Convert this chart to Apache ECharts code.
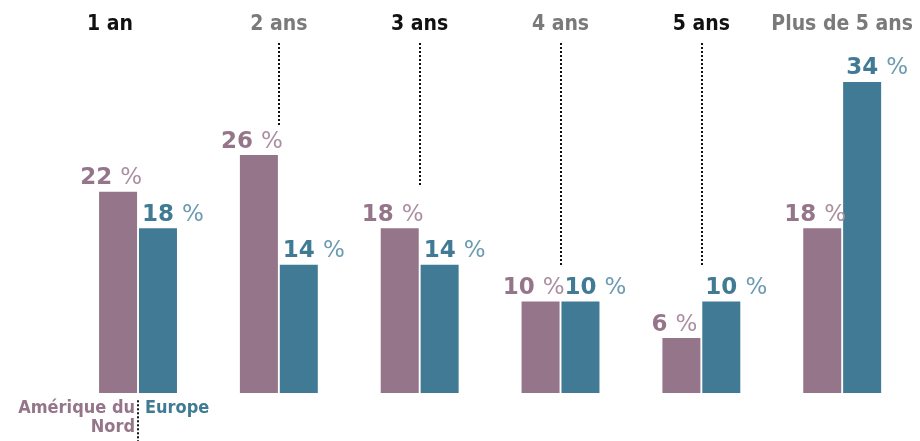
<!DOCTYPE html>
<html style="height: 100%">
<head>
  <meta charset="utf-8">
</head>
<body style="height: 100%; margin: 0; background: #fff">
  <div id="container" style="width: 920px; height: 441px"></div>
  <script type="text/javascript" src="https://cdn.jsdelivr.net/npm/echarts@6/dist/echarts.min.js"></script>
  <script type="text/javascript">
    // durations, shares for each region (%)
    var categories = ['1 an', '2 ans', '3 ans', '4 ans', '5 ans', 'Plus de 5 ans'];
    var amerique = [22, 26, 18, 10, 6, 18];
    var europe = [18, 14, 14, 10, 10, 34];
    // dotted leaders under the headings: [category index, lower end value]
    var leaders = [[1, 29.1], [2, 22.7], [3, 13.9], [4, 13.9]];
    var yMin = -5.25;
    var yMax = 38.25;

    var purple = '#957589';
    var blue = '#417a94';
    var condensed = '"Liberation Sans Narrow", "DejaVu Sans Condensed", "Roboto Condensed", sans-serif';

    var dom = document.getElementById('container');
    var myChart = echarts.init(dom, null, { renderer: 'canvas' });

    function valueLabel(color, light, offsetX) {
      return {
        show: true,
        position: 'top',
        distance: 2,
        offset: [offsetX, 0],
        formatter: '{n|{c}}{p|%}',
        rich: {
          n: { fontFamily: 'DejaVu Sans', fontWeight: 'bold', fontSize: 23, color: color },
          p: { fontFamily: 'DejaVu Sans', fontWeight: 'normal', fontSize: 23, color: light, padding: [0, 0, 0, 8] }
        }
      };
    }

    var leaderLines = leaders.map(function (l) {
      return [{ coord: [l[0], yMax] }, { coord: [l[0], l[1]] }];
    });
    leaderLines.push([{ coord: [0, -0.8] }, { coord: [0, yMin] }]);

    var option = {
      animation: false,
      grid: { left: 67.6, right: 7.4, top: 43, bottom: 0, containLabel: false, outerBoundsMode: 'none' },
      xAxis: {
        type: 'category',
        position: 'top',
        data: categories,
        axisLine: { show: false },
        axisTick: { show: false },
        axisLabel: {
          margin: 8,
          formatter: function (v, i) {
            if (i === 0) return '{first|' + v + '}';
            return (i % 2 === 0 ? '{dark|' : '{gray|') + v + '}';
          },
          rich: {
            first: { fontFamily: condensed, fontWeight: 'bold', fontSize: 21, color: '#111', padding: [0, 56, 0, 0] },
            dark: { fontFamily: condensed, fontWeight: 'bold', fontSize: 21, color: '#111' },
            gray: { fontFamily: condensed, fontWeight: 'bold', fontSize: 21, color: '#7a7a7a' }
          }
        }
      },
      yAxis: {
        type: 'value',
        min: yMin,
        max: yMax,
        show: false,
        splitLine: { show: false }
      },
      series: [
        {
          name: 'Amérique du Nord',
          type: 'bar',
          data: amerique,
          barWidth: 38,
          barGap: '5%',
          itemStyle: { color: purple },
          label: valueLabel(purple, '#ab8fa1', -7)
        },
        {
          name: 'Europe',
          type: 'bar',
          data: europe,
          barWidth: 38,
          itemStyle: { color: blue },
          label: valueLabel(blue, '#6b9bb2', 15)
        },
        {
          // carrier for the dotted leader lines, centred on each category
          type: 'line',
          data: [],
          silent: true,
          markLine: {
            silent: true,
            symbol: ['none', 'none'],
            label: { show: false },
            lineStyle: { color: '#111', type: [2, 2], width: 2 },
            data: leaderLines
          }
        }
      ],
      graphic: [
        {
          type: 'text', right: 920 - 135, top: 399,
          style: { text: 'Amérique du', fill: purple, font: 'bold 18px ' + condensed }
        },
        {
          type: 'text', right: 920 - 135, top: 418,
          style: { text: 'Nord', fill: purple, font: 'bold 18px ' + condensed }
        },
        {
          type: 'text', left: 145, top: 399,
          style: { text: 'Europe', fill: blue, font: 'bold 18px ' + condensed }
        }
      ]
    };

    myChart.setOption(option);
  </script>
</body>
</html>
